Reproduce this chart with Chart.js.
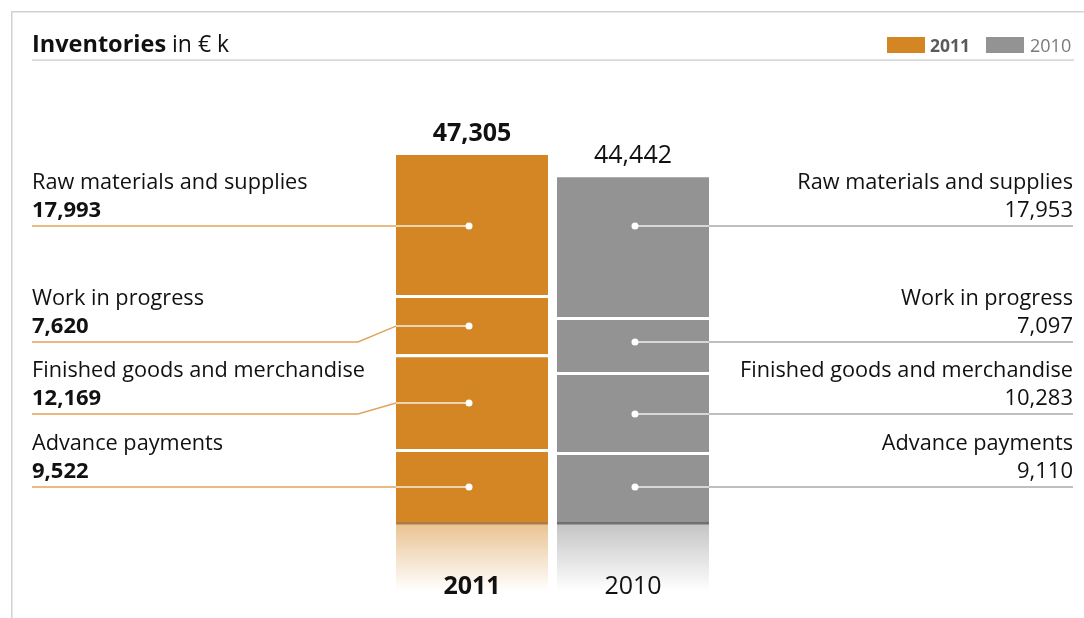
<!DOCTYPE html>
<html>
<head>
<meta charset="utf-8">
<title>Inventories</title>
<script src="https://cdn.jsdelivr.net/npm/chart.js@4/dist/chart.umd.min.js"></script>
<style>
  html, body { margin: 0; padding: 0; background: #ffffff; }
  #wrap { width: 1084px; height: 618px; position: relative; }
</style>
</head>
<body>
<div id="wrap"><canvas id="chart" width="1084" height="618"></canvas></div>
<script>
// ---- data (in € k) ----
const years = ['2011', '2010'];
const categories = ['Advance payments', 'Finished goods and merchandise', 'Work in progress', 'Raw materials and supplies'];
const values2011 = [9522, 12169, 7620, 17993];
const values2010 = [9110, 10283, 7097, 17953];
const totals = [47305, 44442];
const yearValues = [values2011, values2010];

// ---- styles ----
const ORANGE = '#D48624';
const GRAY = '#939393';
const ORANGE_LINE = '#E3A35A';
const GRAY_LINE = '#AAAAAA';
const FONT = '"Open Sans", "Noto Sans", sans-serif';
const barColors = [ORANGE, GRAY];
// y of the underline of each label row (same order as categories)
const rowY = [487, 414, 342, 226];

const datasets = categories.map((name, i) => ({
  label: name,
  data: [values2011[i], values2010[i]],
  backgroundColor: barColors,
  borderColor: '#ffffff',
  borderWidth: i < categories.length - 1 ? { top: 3, bottom: 0, left: 0, right: 0 } : 0,
  borderSkipped: 'start',
  inflateAmount: 0,
  barThickness: 152,
  stack: 'inv'
}));

function fmt(v) { return v.toLocaleString('en-US'); }

const decor = {
  id: 'decor',
  beforeDatasetsDraw(chart) {
    const ctx = chart.ctx;
    const base = chart.scales.y.getPixelForValue(0);
    // frame and header
    ctx.save();
    ctx.fillStyle = '#d2d2d2';
    ctx.fillRect(12, 11, 1072, 1.5);
    ctx.fillRect(11, 11, 1.5, 607);
    ctx.fillStyle = '#c8c8c8';
    ctx.fillRect(32, 59.5, 1042, 1.2);

    ctx.textBaseline = 'alphabetic';
    ctx.textAlign = 'left';
    ctx.fillStyle = '#111111';
    ctx.font = 'bold 23.5px ' + FONT;
    ctx.fillText('Inventories', 32, 52);
    const w = ctx.measureText('Inventories').width;
    ctx.font = '23px ' + FONT;
    ctx.fillText(' in € k', 32 + w, 52);

    // legend
    ctx.fillStyle = ORANGE;
    ctx.fillRect(887, 37, 38, 16);
    ctx.fillStyle = '#5a5a5a';
    ctx.font = 'bold 17.5px ' + FONT;
    ctx.fillText(years[0], 930, 52);
    ctx.fillStyle = GRAY;
    ctx.fillRect(986, 37, 38, 16);
    ctx.fillStyle = '#7a7a7a';
    ctx.font = '18px ' + FONT;
    ctx.fillText(years[1], 1030, 52);

    // reflections under the bars
    const meta = chart.getDatasetMeta(0);
    meta.data.forEach((bar, j) => {
      const left = bar.x - bar.width / 2;
      const g = ctx.createLinearGradient(0, base, 0, base + 68);
      if (j === 0) {
        g.addColorStop(0, 'rgba(212,134,36,0.50)');
        g.addColorStop(1, 'rgba(212,134,36,0)');
      } else {
        g.addColorStop(0, 'rgba(147,147,147,0.55)');
        g.addColorStop(1, 'rgba(147,147,147,0)');
      }
      ctx.fillStyle = g;
      ctx.fillRect(left, base, bar.width, 68);
    });
    ctx.restore();
  },
  afterDatasetsDraw(chart) {
    const ctx = chart.ctx;
    const base = chart.scales.y.getPixelForValue(0);
    ctx.save();
    const bottomMeta = chart.getDatasetMeta(0);
    const topMeta = chart.getDatasetMeta(categories.length - 1);

    bottomMeta.data.forEach((bar, j) => {
      const left = bar.x - bar.width / 2;
      // darker base line
      ctx.fillStyle = j === 0 ? '#A97C4A' : '#707070';
      ctx.fillRect(left, base - 1, bar.width, 2.5);
      // total above the bar
      const top = topMeta.data[j].y;
      ctx.fillStyle = '#111111';
      ctx.textAlign = 'center';
      ctx.font = (j === 0 ? 'bold ' : '') + '25px ' + FONT;
      ctx.fillText(fmt(totals[j]), bar.x, top - 14);
      // year label in the reflection
      ctx.fillText(years[j], bar.x, 594);
    });

    // leader lines and segment labels
    categories.forEach((name, i) => {
      const meta = chart.getDatasetMeta(i);
      const gapTop = i < categories.length - 1 ? 3 : 0;
      meta.data.forEach((bar, j) => {
        const segTop = bar.y + gapTop;
        const segBot = bar.base;
        const ry = rowY[i];
        let dy = (segTop + segBot) / 2;
        if (j === 1 && ry > segTop + 6 && ry < segBot - 6) dy = ry;
        if (Math.abs(dy - ry) < 5) dy = ry;
        const isLeft = j === 0;
        const edge = isLeft ? bar.x - bar.width / 2 : bar.x + bar.width / 2;
        const dotX = isLeft ? bar.x - 3 : bar.x + 2;
        const endX = isLeft ? 32 : 1073;
        const bend = isLeft ? edge - 38 : edge + 38;

        // outer line
        ctx.strokeStyle = isLeft ? ORANGE_LINE : GRAY_LINE;
        ctx.lineWidth = 1.5;
        ctx.beginPath();
        ctx.moveTo(endX, ry);
        if (dy !== ry) {
          ctx.lineTo(bend, ry);
          ctx.lineTo(edge, dy);
        } else {
          ctx.lineTo(edge, ry);
        }
        ctx.stroke();
        // inner line
        ctx.strokeStyle = 'rgba(255,255,255,0.85)';
        ctx.beginPath();
        ctx.moveTo(edge, dy);
        ctx.lineTo(dotX, dy);
        ctx.stroke();
        // dot
        ctx.fillStyle = '#ffffff';
        ctx.beginPath();
        ctx.arc(dotX, dy, 3.5, 0, Math.PI * 2);
        ctx.fill();

        // texts
        ctx.fillStyle = '#111111';
        ctx.textAlign = isLeft ? 'left' : 'right';
        ctx.font = '21.7px ' + FONT;
        ctx.fillText(name, endX, ry - 37);
        ctx.font = (isLeft ? 'bold ' : '') + '22px ' + FONT;
        ctx.fillText(fmt(yearValues[j][i]), endX, ry - 9);
      });
    });
    ctx.restore();
  }
};

new Chart(document.getElementById('chart'), {
  type: 'bar',
  data: { labels: years, datasets },
  options: {
    responsive: false,
    devicePixelRatio: 1,
    animation: false,
    layout: { padding: { left: 391.5, right: 370.5, top: 134, bottom: 95 } },
    plugins: { legend: { display: false }, tooltip: { enabled: false } },
    scales: {
      x: { display: false, stacked: true, offset: true },
      y: { display: false, stacked: true, min: 0, max: 50000 }
    }
  },
  plugins: [decor]
});
</script>
</body>
</html>
